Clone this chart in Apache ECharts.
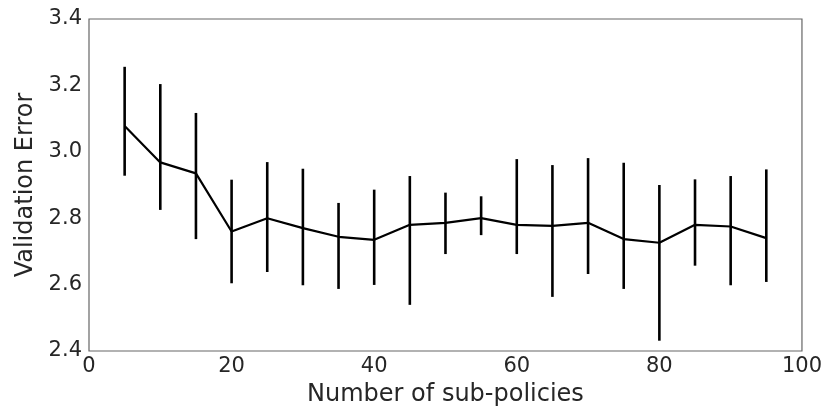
<!DOCTYPE html>
<html>
<head>
<meta charset="utf-8">
<script src="https://cdn.jsdelivr.net/npm/echarts@6/dist/echarts.min.js"></script>
<style>html,body{margin:0;padding:0;background:#fff;}#c{width:825px;height:412px;}</style>
</head>
<body>
<div id="c"></div>
<script>
var subPolicies = [5,10,15,20,25,30,35,40,45,50,55,60,65,70,75,80,85,90,95];
var meanError  = [3.078,2.968,2.935,2.760,2.800,2.770,2.744,2.735,2.780,2.786,2.800,2.780,2.777,2.786,2.737,2.726,2.780,2.775,2.740];
var lowerError = [2.928,2.825,2.737,2.604,2.638,2.598,2.587,2.599,2.539,2.692,2.749,2.692,2.563,2.632,2.587,2.431,2.657,2.598,2.608];
var upperError = [3.256,3.204,3.117,2.916,2.969,2.949,2.846,2.886,2.927,2.877,2.866,2.978,2.960,2.981,2.967,2.900,2.917,2.927,2.947];
var xTicks = [0,20,40,60,80,100];
var yTicks = [2.4,2.6,2.8,3.0,3.2,3.4];

var chart = echarts.init(document.getElementById('c'), null, {renderer:'canvas'});
var font = 'DejaVu Sans';
var txt = '#262626';
chart.setOption({
  animation:false,
  backgroundColor:'#fff',
  grid:{left:89,right:22,top:19,bottom:57,show:true,borderColor:'#666',borderWidth:1.2,backgroundColor:'transparent'},
  xAxis:{type:'value',min:xTicks[0],max:xTicks[xTicks.length-1],interval:20,
    name:'Number of sub-policies',nameLocation:'middle',nameGap:32,
    nameTextStyle:{fontFamily:font,fontSize:24,color:txt},
    axisLine:{show:false},axisTick:{show:false},splitLine:{show:false},
    axisLabel:{fontFamily:font,fontSize:21,color:txt,margin:5}},
  yAxis:{type:'value',min:yTicks[0],max:yTicks[yTicks.length-1],interval:0.2,
    name:'Validation Error',nameLocation:'middle',nameGap:48,
    nameTextStyle:{fontFamily:font,fontSize:24,color:txt},
    axisLine:{show:false},axisTick:{show:false},splitLine:{show:false},
    axisLabel:{fontFamily:font,fontSize:21,color:txt,margin:7,formatter:function(v){return v.toFixed(1);}}},
  series:[
    {type:'line',data:subPolicies.map(function(x,i){return [x,meanError[i]];}),
     symbol:'none',lineStyle:{color:'#000',width:2.2},z:3},
    {type:'custom',data:subPolicies.map(function(x,i){return [x,lowerError[i],upperError[i]];}),
     renderItem:function(params,api){
       var a=api.coord([api.value(0),api.value(1)]);
       var b=api.coord([api.value(0),api.value(2)]);
       return {type:'line',shape:{x1:a[0],y1:a[1],x2:b[0],y2:b[1]},style:{stroke:'#000',lineWidth:2.6}};
     },z:4}
  ]
});
</script>
</body>
</html>
